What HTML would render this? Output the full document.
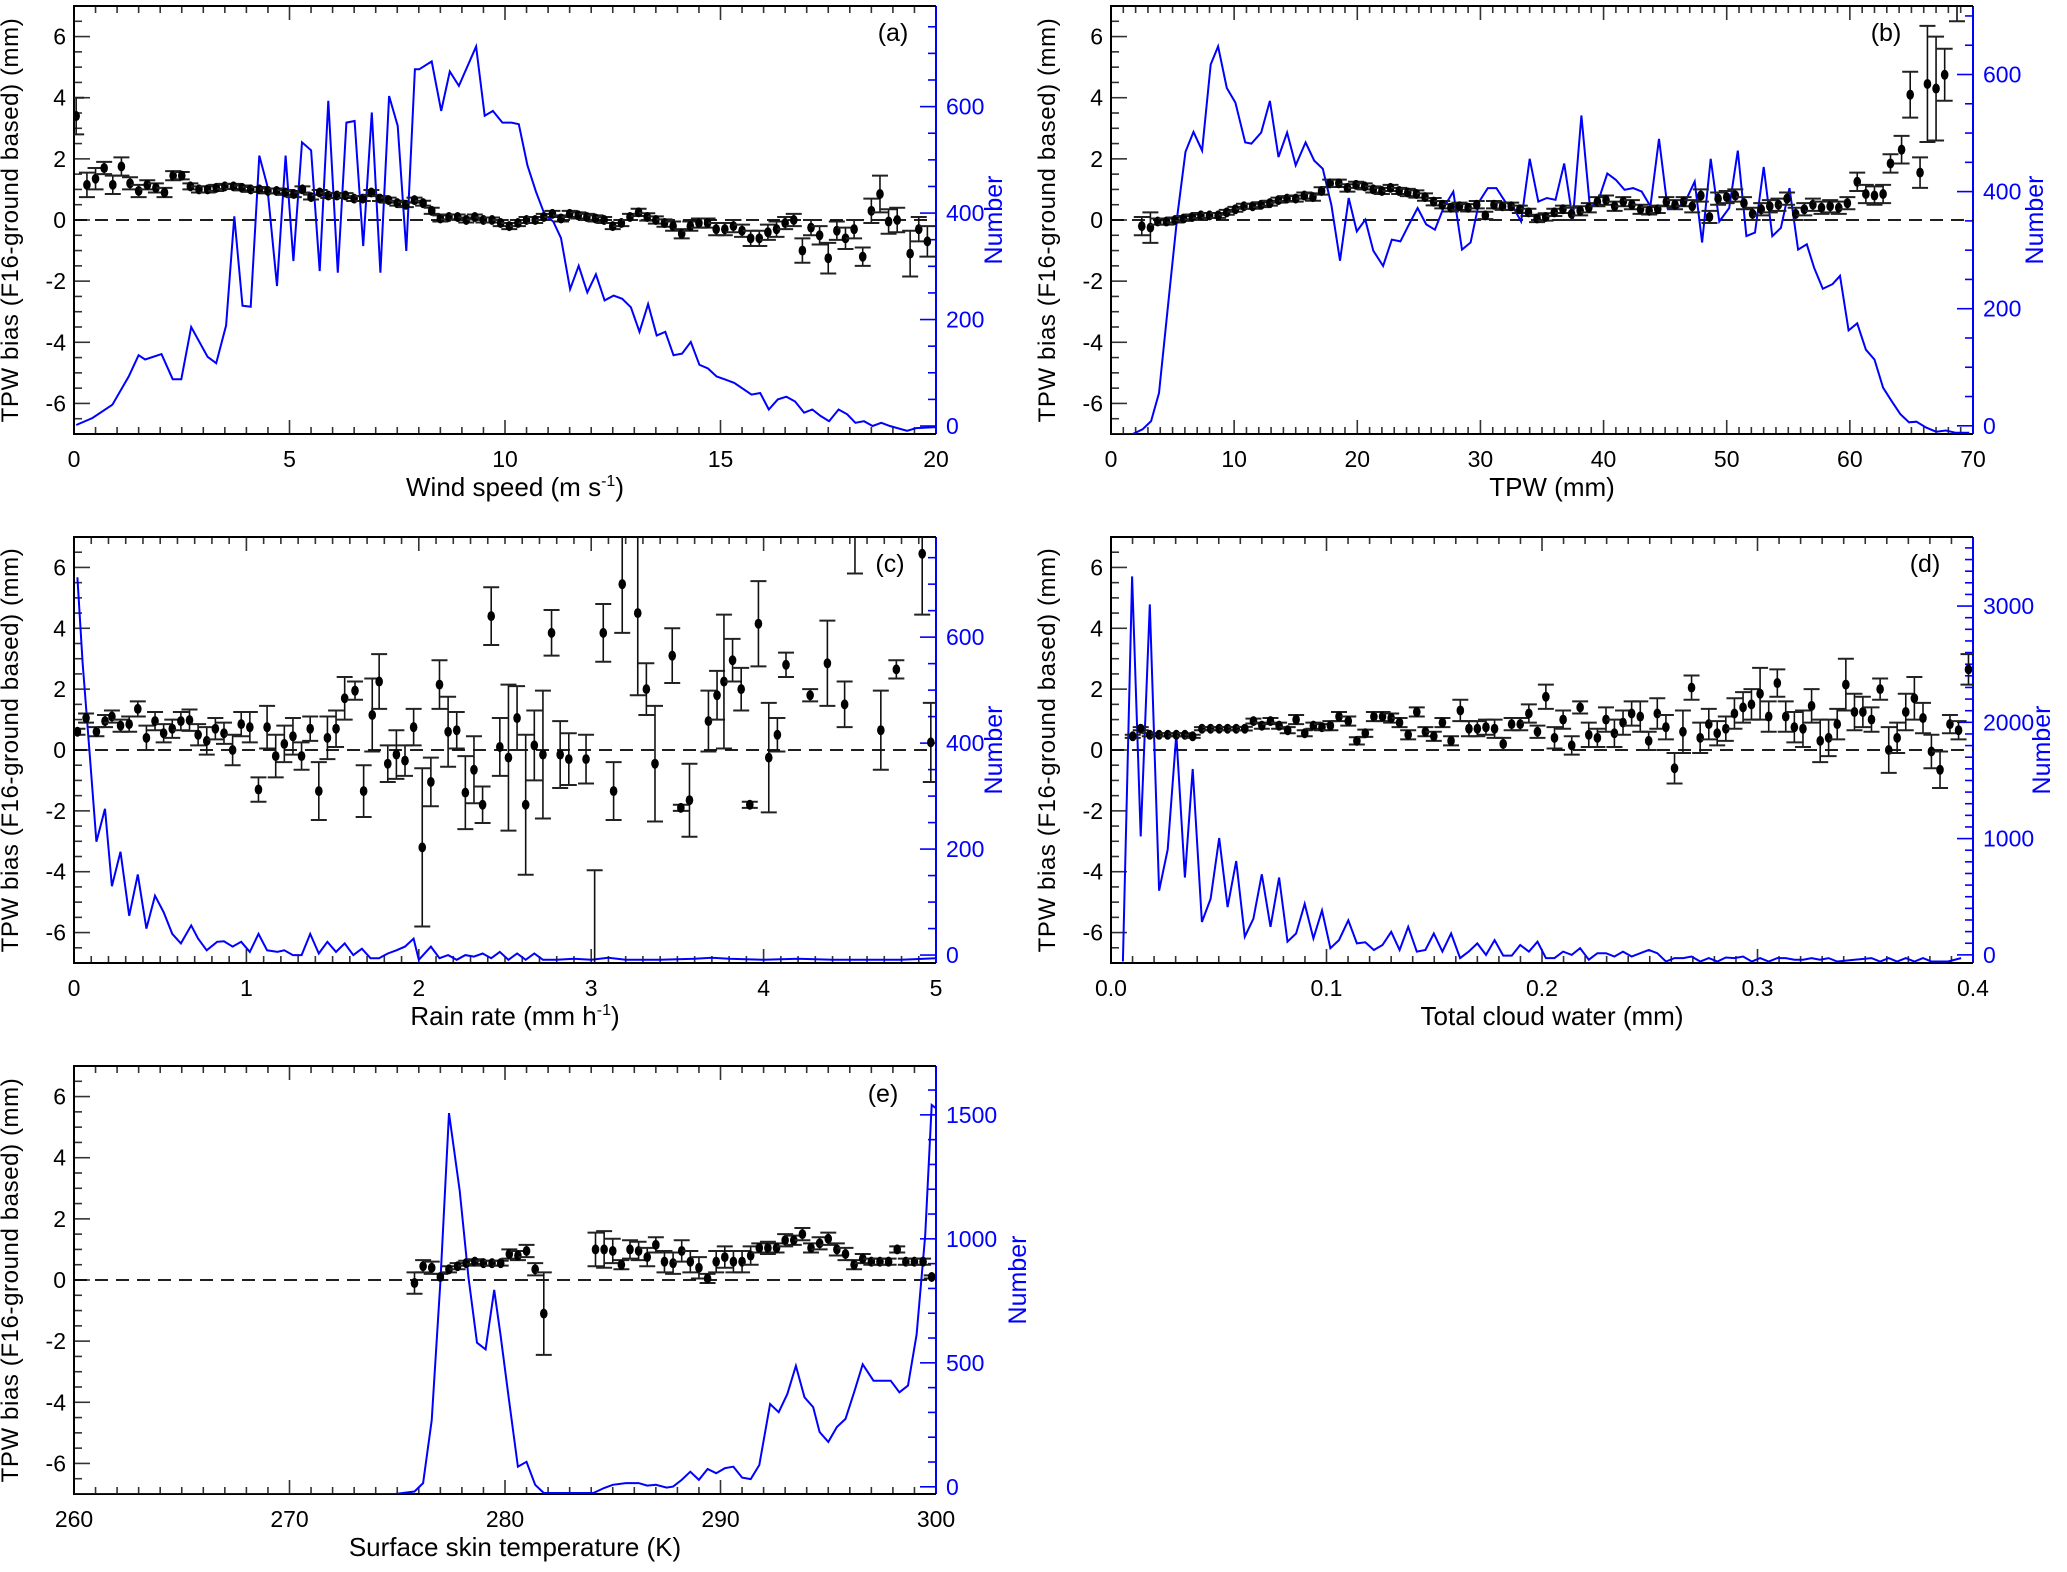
<!DOCTYPE html>
<html><head><meta charset="utf-8"><style>
html,body{margin:0;padding:0;background:#fff;}
svg{display:block;font-family:"Liberation Sans",Arial,sans-serif;}
</style></head><body>
<svg id="fig" width="2067" height="1572" viewBox="0 0 2067 1572" xmlns="http://www.w3.org/2000/svg"></svg>
<script>
// ---------- Panel (a): wind speed ----------
const aCountX=[0.05,0.43,0.89,1.27,1.5,1.65,2.03,2.29,2.49,2.72,3.1,3.3,3.53,3.72,3.91,4.1,4.3,4.48,4.71,4.91,5.09,5.29,5.5,5.7,5.9,6.12,6.32,6.51,6.71,6.91,7.11,7.31,7.51,7.71,7.91,8.01,8.3,8.52,8.72,8.93,9.33,9.53,9.72,9.94,10.15,10.32,10.52,10.72,10.92,11.12,11.3,11.51,11.71,11.91,12.11,12.31,12.52,12.72,12.92,13.12,13.32,13.52,13.72,13.91,14.11,14.31,14.51,14.71,14.91,15.12,15.32,15.72,15.92,16.12,16.33,16.53,16.73,16.94,17.13,17.32,17.52,17.74,17.94,18.13,18.33,18.53,18.73,18.93,19.33,19.54,20.0];
const aCountN=[2,15,40,93,133,125,135,88,88,186,130,118,189,394,226,224,508,453,263,508,310,533,518,291,611,288,570,573,338,589,288,620,564,329,670,670,685,592,666,639,713,583,592,570,570,567,490,440,397,384,353,257,301,251,285,236,245,239,223,177,229,170,177,133,136,158,115,108,93,87,81,59,62,31,50,55,46,25,31,19,9,31,22,6,9,0,6,0,-9,-4,-2];
const aBiasX=[0.05,0.3,0.5,0.7,0.9,1.1,1.3,1.5,1.7,1.9,2.1,2.3,2.5,2.7,2.9,3.1,3.3,3.5,3.7,3.9,4.1,4.3,4.5,4.7,4.9,5.1,5.3,5.5,5.7,5.9,6.1,6.3,6.5,6.7,6.9,7.1,7.3,7.5,7.7,7.9,8.1,8.3,8.5,8.7,8.9,9.1,9.3,9.5,9.7,9.9,10.1,10.3,10.5,10.7,10.9,11.1,11.3,11.5,11.7,11.9,12.1,12.3,12.5,12.7,12.9,13.1,13.3,13.5,13.7,13.9,14.1,14.3,14.5,14.7,14.9,15.1,15.3,15.5,15.7,15.9,16.1,16.3,16.5,16.7,16.9,17.1,17.3,17.5,17.7,17.9,18.1,18.3,18.5,18.7,18.9,19.1,19.4,19.6,19.8];
const aBiasY=[3.4,1.15,1.35,1.7,1.15,1.75,1.2,0.95,1.15,1.05,0.9,1.45,1.45,1.1,1.0,1.0,1.05,1.1,1.1,1.05,1.0,1.0,0.95,0.95,0.9,0.85,1.0,0.75,0.9,0.8,0.8,0.8,0.7,0.7,0.9,0.7,0.65,0.55,0.5,0.65,0.55,0.3,0.05,0.1,0.1,0.0,0.1,0.0,0.0,-0.1,-0.2,-0.1,0.0,0.0,0.1,0.2,0.05,0.2,0.15,0.1,0.05,0.0,-0.2,-0.1,0.1,0.25,0.1,0.0,-0.1,-0.2,-0.45,-0.2,-0.1,-0.1,-0.3,-0.3,-0.2,-0.35,-0.6,-0.6,-0.4,-0.3,-0.1,0.0,-1.0,-0.25,-0.5,-1.25,-0.35,-0.6,-0.3,-1.2,0.3,0.85,-0.05,0.0,-1.1,-0.3,-0.7];
const aBiasErr=[0.6,0.4,0.35,0.2,0.3,0.3,0.2,0.2,0.15,0.15,0.15,0.15,0.12,0.1,0.1,0.1,0.1,0.08,0.08,0.08,0.08,0.08,0.08,0.08,0.08,0.1,0.1,0.08,0.08,0.08,0.08,0.08,0.08,0.08,0.08,0.08,0.08,0.08,0.08,0.08,0.08,0.1,0.1,0.08,0.08,0.08,0.08,0.08,0.08,0.1,0.1,0.1,0.1,0.1,0.1,0.1,0.1,0.1,0.1,0.1,0.1,0.1,0.1,0.1,0.1,0.12,0.12,0.12,0.12,0.15,0.15,0.15,0.15,0.15,0.2,0.2,0.2,0.2,0.25,0.25,0.25,0.25,0.2,0.2,0.4,0.25,0.3,0.5,0.3,0.35,0.3,0.3,0.4,0.6,0.4,0.4,0.75,0.4,0.5];

// ---------- Panel (b): TPW ----------
const bCountX=[0,1.77,2.57,3.26,3.9,4.7,5.4,6.05,6.7,7.4,8.1,8.7,9.4,10.1,10.9,11.4,12.2,12.9,13.6,14.3,15.0,15.8,16.5,17.2,17.9,18.6,19.3,19.96,20.65,21.3,22.1,22.8,23.5,24.2,24.9,25.6,26.3,27.0,27.8,28.5,29.2,29.9,30.6,31.3,32.0,32.7,33.3,34.0,34.7,35.4,36.1,36.8,37.5,38.2,38.9,39.6,40.3,41.0,41.7,42.4,43.1,43.8,44.5,45.2,46.0,46.7,47.4,48.0,48.7,49.4,50.2,50.9,51.6,52.3,53.0,53.7,54.4,55.1,55.8,56.5,57.1,57.8,58.6,59.2,59.9,60.6,61.3,62.0,62.7,63.4,64.1,64.8,65.4,66.2,67.0,67.8,68.6,69.7];
const bCountN=[-14,-14,-6,8,56,220,361,468,502,470,617,648,577,552,484,482,501,555,459,501,445,484,453,439,377,282,389,332,352,299,273,318,315,344,372,344,335,372,400,301,313,383,406,406,383,372,349,456,383,389,386,448,352,530,372,386,431,420,403,406,400,375,490,372,372,386,417,313,456,349,372,470,324,330,442,324,338,406,301,310,270,234,242,256,163,175,130,113,65,42,20,6,7,-3,-10,-8,-12,-12];
const bBiasX=[2.5,3.2,3.8,4.5,5.2,5.9,6.6,7.3,8.0,8.7,9.4,10.1,10.8,11.5,12.2,12.9,13.6,14.3,15.0,15.7,16.4,17.1,17.8,18.5,19.2,19.9,20.6,21.3,22.0,22.7,23.4,24.1,24.8,25.5,26.2,26.9,27.6,28.3,29.0,29.7,30.4,31.1,31.8,32.5,33.2,33.9,34.6,35.3,36.0,36.7,37.4,38.1,38.8,39.5,40.2,40.9,41.6,42.3,43.0,43.7,44.4,45.1,45.8,46.5,47.2,47.9,48.6,49.3,50.0,50.7,51.4,52.1,52.8,53.5,54.2,54.9,55.6,56.3,57.0,57.7,58.4,59.1,59.8,60.6,61.3,62.0,62.7,63.3,64.2,64.9,65.7,66.3,67.0,67.7,68.7];
const bBiasY=[-0.2,-0.25,-0.05,-0.05,0.0,0.05,0.1,0.15,0.15,0.15,0.25,0.35,0.45,0.45,0.5,0.55,0.65,0.7,0.7,0.8,0.75,0.95,1.2,1.2,1.05,1.15,1.1,1.0,0.95,1.05,0.95,0.9,0.85,0.75,0.6,0.5,0.4,0.45,0.4,0.5,0.15,0.5,0.45,0.45,0.35,0.25,0.05,0.1,0.25,0.35,0.2,0.3,0.4,0.6,0.65,0.45,0.6,0.5,0.35,0.3,0.35,0.6,0.5,0.6,0.45,0.8,0.1,0.7,0.75,0.8,0.55,0.2,0.35,0.45,0.5,0.7,0.2,0.35,0.5,0.4,0.45,0.4,0.55,1.25,0.85,0.8,0.85,1.85,2.3,4.1,1.55,4.45,4.3,4.75,7.3];
const bBiasErr=[0.3,0.5,0.1,0.1,0.08,0.08,0.08,0.08,0.08,0.08,0.08,0.08,0.08,0.08,0.08,0.08,0.08,0.08,0.1,0.1,0.12,0.12,0.12,0.12,0.12,0.1,0.1,0.1,0.1,0.1,0.1,0.12,0.12,0.12,0.12,0.12,0.12,0.12,0.12,0.12,0.12,0.12,0.12,0.12,0.12,0.12,0.12,0.12,0.12,0.12,0.2,0.15,0.15,0.15,0.15,0.15,0.15,0.15,0.15,0.12,0.12,0.15,0.15,0.15,0.2,0.2,0.2,0.2,0.2,0.2,0.2,0.2,0.2,0.2,0.2,0.2,0.2,0.2,0.2,0.2,0.2,0.2,0.2,0.3,0.3,0.3,0.3,0.3,0.45,0.75,0.5,1.9,1.7,0.85,0.8];

// ---------- Panel (c): rain rate ----------
const cCountX=[0.02,0.05,0.09,0.13,0.18,0.22,0.27,0.32,0.37,0.42,0.47,0.52,0.57,0.62,0.68,0.72,0.77,0.83,0.87,0.92,0.97,1.02,1.07,1.12,1.18,1.22,1.27,1.32,1.37,1.42,1.47,1.52,1.57,1.62,1.67,1.72,1.77,1.82,1.87,1.92,1.97,2.0,2.07,2.12,2.17,2.22,2.27,2.32,2.37,2.42,2.47,2.52,2.57,2.62,2.67,2.72,2.8,2.9,3.0,3.1,3.2,3.4,3.6,3.7,3.8,4.0,4.2,4.4,4.6,4.8,5.0];
const cCountN=[713,552,384,214,276,130,195,74,152,50,112,81,40,22,56,31,9,25,26,16,25,6,40,9,6,9,0,0,40,3,25,6,22,0,12,-6,-6,3,9,16,31,-9,16,-6,0,-9,0,-3,3,-6,6,-9,3,-9,3,-9,-9,-7,-9,-5,-9,-9,-7,-5,-7,-9,-7,-9,-9,-9,-6];
const cBiasX=[0.02,0.07,0.13,0.18,0.22,0.27,0.32,0.37,0.42,0.47,0.52,0.57,0.62,0.67,0.72,0.77,0.82,0.87,0.92,0.97,1.02,1.07,1.12,1.17,1.22,1.27,1.32,1.37,1.42,1.47,1.52,1.57,1.63,1.68,1.73,1.77,1.82,1.87,1.92,1.97,2.02,2.07,2.12,2.17,2.22,2.27,2.32,2.37,2.42,2.47,2.52,2.57,2.62,2.67,2.72,2.77,2.82,2.87,2.97,3.02,3.07,3.13,3.18,3.27,3.32,3.37,3.47,3.52,3.57,3.68,3.73,3.77,3.82,3.87,3.92,3.97,4.03,4.08,4.13,4.27,4.37,4.47,4.53,4.68,4.77,4.92,4.97];
const cBiasY=[0.6,1.05,0.6,0.95,1.1,0.8,0.85,1.35,0.4,0.95,0.55,0.7,0.95,0.98,0.5,0.3,0.7,0.55,0.0,0.85,0.75,-1.3,0.75,-0.2,0.2,0.45,-0.2,0.7,-1.35,0.4,0.7,1.7,1.95,-1.35,1.15,2.25,-0.45,-0.15,-0.35,0.75,-3.2,-1.05,2.15,0.6,0.65,-1.4,-0.65,-1.8,4.4,0.1,-0.25,1.05,-1.8,0.15,-0.15,3.85,-0.15,-0.3,-0.3,-7.5,3.85,-1.35,5.45,4.5,2.0,-0.45,3.1,-1.9,-1.65,0.95,1.8,2.25,2.95,2.0,-1.8,4.15,-0.25,0.5,2.8,1.8,2.85,1.5,7.4,0.65,2.65,6.45,0.25];
const cBiasErr=[0.1,0.15,0.15,0.2,0.2,0.2,0.25,0.25,0.4,0.3,0.3,0.3,0.3,0.35,0.35,0.45,0.35,0.35,0.5,0.4,0.5,0.4,0.7,0.7,0.6,0.6,0.45,0.4,0.95,0.7,0.6,0.7,0.3,0.85,1.2,0.9,0.6,0.8,0.5,0.6,2.6,0.8,0.8,1.15,0.6,1.2,1.1,0.6,0.95,0.95,2.4,1.05,2.3,1.15,2.1,0.75,1.1,0.85,0.8,3.55,0.95,0.95,1.6,2.7,0.85,1.9,0.9,0.1,1.2,1.0,0.8,2.2,0.7,0.7,0.1,1.4,1.8,0.55,0.4,0.2,1.4,0.75,1.6,1.3,0.3,2.0,1.3];

// ---------- Panel (d): total cloud water ----------
const dCountX=[0.0055,0.0098,0.0138,0.018,0.0223,0.0263,0.0303,0.0343,0.0379,0.0422,0.0462,0.0502,0.0541,0.0581,0.0621,0.0661,0.07,0.074,0.078,0.0819,0.0859,0.0899,0.0939,0.0979,0.1018,0.1058,0.1101,0.1141,0.118,0.122,0.126,0.13,0.1339,0.1379,0.1419,0.1459,0.1498,0.1538,0.1578,0.162,0.166,0.17,0.174,0.178,0.182,0.186,0.1899,0.1939,0.1979,0.2018,0.2058,0.2098,0.2138,0.2177,0.2217,0.2257,0.2297,0.2336,0.2376,0.2416,0.2456,0.2496,0.2535,0.2575,0.2615,0.2655,0.2694,0.2734,0.2774,0.2814,0.2853,0.2893,0.2933,0.2973,0.3012,0.3052,0.3092,0.3131,0.3171,0.3211,0.3251,0.329,0.333,0.337,0.345,0.3529,0.3569,0.3609,0.3648,0.3688,0.3728,0.3768,0.3807,0.3884,0.3945];
const dCountN=[-57,3255,1019,3014,552,906,1896,665,1599,283,481,1005,411,807,156,311,693,241,665,113,184,439,142,382,57,127,297,99,108,42,85,198,42,241,28,42,184,28,184,-28,28,99,0,127,-6,-6,85,28,113,-28,-28,28,0,57,-42,14,14,-14,28,-14,14,42,14,-57,-28,-28,-14,-57,-28,-57,-23,-28,-14,-57,-28,-57,-28,-28,-42,-42,-28,-42,-28,-57,-42,-28,-57,-28,-57,-28,-57,-28,-57,-57,-28];
const dBiasX=[0.0101,0.0138,0.018,0.0223,0.0263,0.0303,0.0343,0.0379,0.0422,0.0462,0.0502,0.0541,0.0581,0.0621,0.0661,0.07,0.074,0.078,0.082,0.0859,0.0899,0.0939,0.0979,0.1018,0.1058,0.1101,0.1141,0.118,0.122,0.126,0.13,0.1339,0.1379,0.1419,0.1459,0.1498,0.1538,0.1578,0.1621,0.1661,0.17,0.174,0.178,0.182,0.1859,0.1899,0.1939,0.1979,0.2018,0.2058,0.2098,0.2138,0.2177,0.2217,0.2257,0.2297,0.2336,0.2376,0.2416,0.2456,0.2495,0.2535,0.2575,0.2615,0.2654,0.2694,0.2734,0.2774,0.2813,0.2853,0.2893,0.2933,0.2972,0.3012,0.3052,0.3092,0.3131,0.3171,0.3211,0.3251,0.3291,0.333,0.337,0.341,0.345,0.3489,0.3529,0.3569,0.3609,0.3648,0.3688,0.3728,0.3768,0.3807,0.3847,0.3893,0.3933,0.3979];
const dBiasY=[0.45,0.7,0.5,0.5,0.5,0.5,0.5,0.45,0.7,0.7,0.7,0.7,0.7,0.7,0.95,0.8,0.95,0.8,0.65,1.0,0.55,0.8,0.75,0.8,1.1,0.95,0.3,0.55,1.1,1.1,1.05,0.9,0.5,1.25,0.6,0.45,0.9,0.3,1.3,0.7,0.7,0.75,0.7,0.2,0.85,0.85,1.2,0.6,1.75,0.4,1.0,0.15,1.4,0.5,0.4,1.0,0.55,0.9,1.2,1.1,0.3,1.2,0.75,-0.6,0.6,2.05,0.4,0.85,0.55,0.7,1.2,1.4,1.5,1.85,1.1,2.2,1.1,0.75,0.7,1.45,0.3,0.4,0.85,2.15,1.25,1.25,1.0,2.0,0.0,0.4,1.25,1.7,1.05,-0.05,-0.65,0.85,0.65,2.65];
const dBiasErr=[0.05,0.05,0.05,0.05,0.05,0.05,0.05,0.05,0.05,0.05,0.05,0.05,0.05,0.06,0.08,0.1,0.1,0.1,0.1,0.15,0.1,0.1,0.1,0.15,0.15,0.15,0.12,0.12,0.15,0.15,0.15,0.15,0.15,0.15,0.15,0.15,0.15,0.15,0.35,0.25,0.25,0.25,0.3,0.2,0.2,0.2,0.3,0.2,0.4,0.35,0.3,0.3,0.2,0.4,0.3,0.4,0.45,0.4,0.4,0.5,0.3,0.5,0.4,0.5,0.7,0.4,0.5,0.5,0.4,0.4,0.5,0.5,0.5,0.85,0.5,0.45,0.5,0.5,0.6,0.55,0.7,0.6,0.5,0.85,0.6,0.5,0.4,0.35,0.75,0.5,0.6,0.7,0.5,0.55,0.6,0.3,0.3,0.5];

// ---------- Panel (e): surface skin temperature ----------
const eCountX=[260,274.9,275.8,276.2,276.6,277.0,277.4,277.9,278.3,278.7,279.1,279.5,279.8,280.2,280.6,281.0,281.4,281.8,284.1,284.6,285.0,285.6,286.2,286.6,287.0,287.5,287.8,288.2,288.6,289.0,289.4,289.8,290.2,290.6,291.0,291.4,291.8,292.3,292.7,293.1,293.5,293.9,294.3,294.6,295.0,295.4,295.8,296.2,296.6,297.1,297.5,297.9,298.3,298.7,299.1,299.5,299.8,300];
const eCountN=[-29,-29,-19,15,268,821,1507,1194,847,581,554,794,607,341,81,101,8,-25,-25,-5,8,15,15,5,8,-3,1,28,61,28,72,55,75,81,37,31,88,334,301,374,488,361,321,221,181,241,274,381,494,428,428,428,381,408,614,1014,1540,1527];
const eBiasX=[275.8,276.2,276.6,277.0,277.4,277.8,278.2,278.6,279.0,279.4,279.8,280.2,280.6,281.0,281.4,281.8,284.2,284.6,285.0,285.4,285.8,286.2,286.6,287.0,287.4,287.8,288.2,288.6,289.0,289.4,289.8,290.2,290.6,291.0,291.4,291.8,292.2,292.6,293.0,293.4,293.8,294.2,294.6,295.0,295.4,295.8,296.2,296.6,297.0,297.4,297.8,298.2,298.6,299.0,299.4,299.8];
const eBiasY=[-0.1,0.45,0.4,0.1,0.35,0.45,0.55,0.6,0.55,0.55,0.55,0.85,0.8,0.95,0.35,-1.1,1.0,1.0,0.95,0.5,1.0,0.95,0.75,1.15,0.6,0.55,0.95,0.6,0.4,0.05,0.6,0.75,0.6,0.6,0.8,1.05,1.05,1.05,1.3,1.3,1.5,1.05,1.2,1.35,1.0,0.85,0.5,0.7,0.6,0.6,0.6,1.0,0.6,0.6,0.6,0.1];
const eBiasErr=[0.35,0.2,0.2,0.1,0.1,0.1,0.08,0.08,0.08,0.08,0.08,0.15,0.15,0.2,0.2,1.35,0.55,0.6,0.4,0.15,0.3,0.3,0.3,0.25,0.35,0.35,0.35,0.35,0.35,0.15,0.35,0.35,0.35,0.35,0.3,0.15,0.2,0.15,0.2,0.15,0.2,0.15,0.2,0.2,0.2,0.2,0.15,0.15,0.1,0.1,0.1,0.1,0.1,0.1,0.1,0.05];

const biasTicks=[-6,-4,-2,0,2,4,6];
const aXTicks=[0,5,10,15,20], bXTicks=[0,10,20,30,40,50,60,70], cXTicks=[0,1,2,3,4,5], dXTicks=[0,0.1,0.2,0.3,0.4], eXTicks=[260,270,280,290,300];
const abcNTicks=[0,200,400,600], dNTicks=[0,1000,2000,3000], eNTicks=[0,500,1000,1500];

const NS="http://www.w3.org/2000/svg";
const svg=document.getElementById('fig');
function el(tag,attrs,parent){const e=document.createElementNS(NS,tag);for(const k in attrs)e.setAttribute(k,attrs[k]);(parent||svg).appendChild(e);return e;}

const panels=[
 {id:'a',L:74,R:936,T:6,B:434,x0:0,x1:20,xt:aXTicks,xm:0.5,fmt:v=>String(v),n0:-15,n1:789,nt:abcNTicks,nm:50,
  cx:aCountX,cn:aCountN,bx:aBiasX,by:aBiasY,be:aBiasErr,xtitle:'Wind speed (m s',sup:'-1',xtail:')',lab:'(a)',labX:893,numX:1002},
 {id:'b',L:1111,R:1973,T:6,B:434,x0:0,x1:70,xt:bXTicks,xm:1,fmt:v=>String(v),n0:-14,n1:717,nt:abcNTicks,nm:50,
  cx:bCountX,cn:bCountN,bx:bBiasX,by:bBiasY,be:bBiasErr,xtitle:'TPW (mm)',lab:'(b)',labX:1886,numX:2043},
 {id:'c',L:74,R:936,T:537,B:963,x0:0,x1:5,xt:cXTicks,xm:0.1,fmt:v=>String(v),n0:-15,n1:789,nt:abcNTicks,nm:50,
  cx:cCountX,cn:cCountN,bx:cBiasX,by:cBiasY,be:cBiasErr,xtitle:'Rain rate (mm h',sup:'-1',xtail:')',lab:'(c)',labX:890,numX:1002},
 {id:'d',L:1111,R:1973,T:537,B:963,x0:0,x1:0.4,xt:dXTicks,xm:0.01,fmt:v=>v.toFixed(1),n0:-70,n1:3594,nt:dNTicks,nm:100,
  cx:dCountX,cn:dCountN,bx:dBiasX,by:dBiasY,be:dBiasErr,xtitle:'Total cloud water (mm)',lab:'(d)',labX:1925,numX:2050},
 {id:'e',L:74,R:936,T:1066,B:1494,x0:260,x1:300,xt:eXTicks,xm:1,fmt:v=>String(v),n0:-29,n1:1697,nt:eNTicks,nm:100,
  cx:eCountX,cn:eCountN,bx:eBiasX,by:eBiasY,be:eBiasErr,xtitle:'Surface skin temperature (K)',lab:'(e)',labX:883,numX:1026}
];

panels.forEach(p=>{
  const g=el('g',{});
  
  
  const X=v=>p.L+(v-p.x0)/(p.x1-p.x0)*(p.R-p.L);
  const Y=v=>p.B-(v+7)/14*(p.B-p.T);
  const N=v=>p.B-(v-p.n0)/(p.n1-p.n0)*(p.B-p.T);
  const clip=el('clipPath',{id:'clip-'+p.id},g);
  el('rect',{x:p.L,y:p.T,width:p.R-p.L,height:p.B-p.T},clip);

  const nMin=Math.round((p.x1-p.x0)/p.xm);
  for(let i=0;i<=nMin;i++){
    const v=p.x0+i*p.xm, x=X(v);
    const major=p.xt.some(t=>Math.abs(t-v)<p.xm/10);
    const len=major?14:7;
    el('line',{x1:x,y1:p.B,x2:x,y2:p.B-len,stroke:'#333','stroke-width':1.6},g);
    el('line',{x1:x,y1:p.T,x2:x,y2:p.T+len,stroke:'#333','stroke-width':1.6},g);
  }
  p.xt.forEach(v=>{
    const t=el('text',{x:X(v),y:p.B+33,'font-size':23,'text-anchor':'middle',fill:'#000'},g);
    t.textContent=p.fmt(v);
    
    
  });
  for(let v=-7;v<=7.001;v+=0.5){
    const major=Math.abs(v%2)<0.01&&Math.abs(v)<6.5;
    const len=major?16:8;
    el('line',{x1:p.L,y1:Y(v),x2:p.L+len,y2:Y(v),stroke:'#333','stroke-width':1.6},g);
  }
  biasTicks.forEach(v=>{
    const t=el('text',{x:p.L-8,y:Y(v)+8,'font-size':23,'text-anchor':'end',fill:'#000'},g);
    t.textContent=String(v);
    
    
  });
  el('line',{x1:p.R,y1:p.T,x2:p.R,y2:p.B,stroke:'#0000ff','stroke-width':2},g);
  for(let v=0;v<=p.n1;v+=p.nm){
    const major=p.nt.includes(v);
    const len=major?16:8;
    el('line',{x1:p.R,y1:N(v),x2:p.R-len,y2:N(v),stroke:'#0000ff','stroke-width':1.6},g);
  }
  p.nt.forEach(v=>{
    const t=el('text',{x:p.R+10,y:N(v)+8,'font-size':23,'text-anchor':'start',fill:'#0000ff'},g);
    t.textContent=String(v);
    
    
  });
  el('polyline',{points:`${p.R},${p.T} ${p.L},${p.T} ${p.L},${p.B} ${p.R},${p.B}`,fill:'none',stroke:'#000','stroke-width':2},g);
  const z=el('line',{x1:p.L,y1:Y(0),x2:p.R,y2:Y(0),stroke:'#000','stroke-width':1.8,'stroke-dasharray':'13 8'},g);
  
  

  const pts=p.cx.map((x,i)=>X(x).toFixed(1)+','+N(p.cn[i]).toFixed(1)).join(' ');
  const cl=el('polyline',{points:pts,fill:'none',stroke:'#0000ff','stroke-width':2,'clip-path':`url(#clip-${p.id})`},g);
  
  

  const bg=el('g',{'clip-path':`url(#clip-${p.id})`},g);
  
  
  p.bx.forEach((xv,i)=>{
    const x=X(xv), y=Y(p.by[i]), y1=Y(p.by[i]+p.be[i]), y2=Y(p.by[i]-p.be[i]);
    el('line',{x1:x,y1:y1,x2:x,y2:y2,stroke:'#111','stroke-width':1.6},bg);
    el('line',{x1:x-8,y1:y1,x2:x+8,y2:y1,stroke:'#222','stroke-width':2},bg);
    el('line',{x1:x-8,y1:y2,x2:x+8,y2:y2,stroke:'#222','stroke-width':2},bg);
    const d=el('ellipse',{cx:x,cy:y,rx:3.8,ry:5,fill:'#000'},bg);
    
    
  });

  const cxm=(p.L+p.R)/2+10;
  const xt=el('text',{x:cxm,y:p.B+62,'font-size':26,'text-anchor':'middle',fill:'#000'},g);
  
  
  xt.appendChild(document.createTextNode(p.xtitle));
  if(p.sup){
    const s=el('tspan',{'font-size':16,dy:-10},xt); s.textContent=p.sup;
    const t2=el('tspan',{dy:10},xt); t2.textContent=p.xtail;
  }
  const ymid=(p.T+p.B)/2;
  const yt=el('text',{x:p.L-56,y:ymid,'font-size':24,'text-anchor':'middle',fill:'#000','letter-spacing':'0.6',transform:`rotate(-90 ${p.L-56} ${ymid})`},g);
  yt.textContent='TPW bias (F16-ground based) (mm)';
  
  
  const nt=el('text',{x:p.numX,y:ymid,'font-size':25,'text-anchor':'middle',fill:'#0000ff',transform:`rotate(-90 ${p.numX} ${ymid})`},g);
  nt.textContent='Number';
  
  
  const lb=el('text',{x:p.labX,y:p.T+(p.id==='e'?36:35),'font-size':25,'text-anchor':'middle',fill:'#000'},g);
  lb.textContent=p.lab;
  
  
});
</script>
</body></html>
